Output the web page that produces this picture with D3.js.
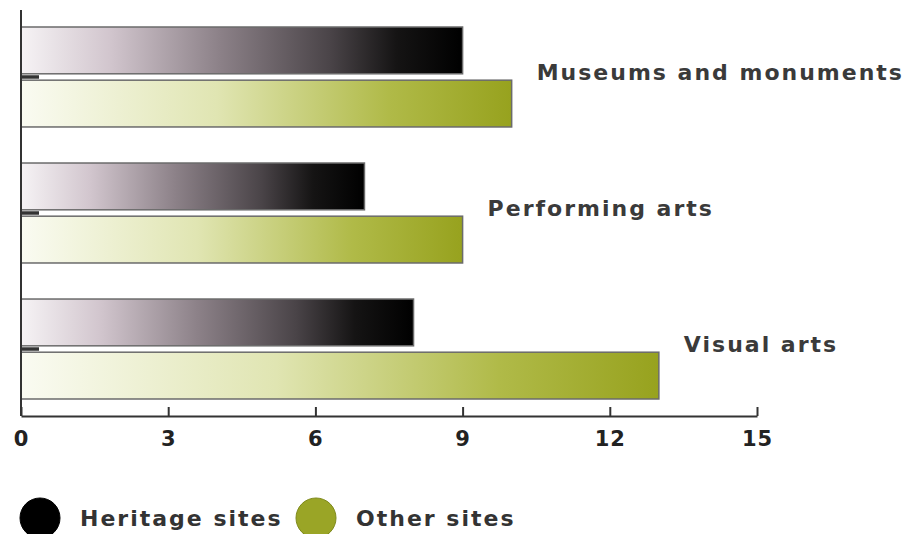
<!DOCTYPE html>
<html>
<head>
<meta charset="utf-8">
<script src="https://cdn.jsdelivr.net/npm/d3@7"></script>
<style>
  html, body { margin: 0; padding: 0; background: #fff; }
  svg { display: block; }
</style>
</head>
<body>
<div id="chart"></div>
<script>
// data
const categories = ["Museums and monuments", "Performing arts", "Visual arts"];
const seriesNames = ["Heritage sites", "Other sites"];
const heritageValues = [9, 7, 8];
const otherValues = [10, 9, 13];
const tickValues = [0, 3, 6, 9, 12, 15];

const width = 909, height = 534;

const svg = d3.select("#chart").append("svg")
    .attr("width", width)
    .attr("height", height);

const defs = svg.append("defs");

// gradients (left pale -> right saturated)
const gradStops = {
    heritage: [[0, "#f6f3f5"], [0.2, "#d2c6ce"], [0.45, "#8c8188"], [0.7, "#4a4448"], [0.85, "#151414"], [1, "#000"]],
    other: [[0, "#fafbf2"], [0.4, "#e0e5b2"], [0.75, "#b0ba48"], [1, "#97a21e"]]
};
Object.keys(gradStops).forEach(k => {
    const g = defs.append("linearGradient")
        .attr("id", "grad-" + k)
        .attr("x1", 0).attr("x2", 1).attr("y1", 0).attr("y2", 0);
    g.selectAll("stop").data(gradStops[k]).enter().append("stop")
        .attr("offset", d => d[0])
        .attr("stop-color", d => d[1]);
});

const x = d3.scaleLinear().domain([0, 15]).range([21, 757]);

const y0 = d3.scaleBand()
    .domain(categories)
    .range([27, 399])
    .paddingInner(0.265)
    .paddingOuter(0);

const y1 = d3.scaleBand()
    .domain(seriesNames)
    .range([0, y0.bandwidth()])
    .paddingInner(0.12);

const rows = categories.map((c, i) => ({
    cat: c,
    vals: [
        { s: seriesNames[0], v: heritageValues[i], key: "heritage" },
        { s: seriesNames[1], v: otherValues[i], key: "other" }
    ]
}));

const group = svg.append("g").selectAll("g")
    .data(rows)
    .enter().append("g")
    .attr("transform", d => `translate(0,${y0(d.cat)})`);

group.selectAll("rect")
    .data(d => d.vals)
    .enter().append("rect")
    .attr("x", x(0))
    .attr("y", d => y1(d.s))
    .attr("width", d => x(d.v) - x(0))
    .attr("height", y1.bandwidth())
    .attr("fill", d => `url(#grad-${d.key})`)
    .attr("stroke", "#6b6b6b")
    .attr("stroke-width", 1.5);

// short dark marker on the axis between the two bars
group.append("line")
    .attr("x1", x(0))
    .attr("x2", x(0) + 18)
    .attr("y1", y0.bandwidth() / 2)
    .attr("y2", y0.bandwidth() / 2)
    .attr("stroke", "#333")
    .attr("stroke-width", 3.5);

// category labels
group.append("text")
    .attr("x", d => x(d3.max(d.vals, v => v.v)) + 25)
    .attr("y", y0.bandwidth() / 2 - 5)
    .attr("dy", "0.35em")
    .attr("font-family", "DejaVu Sans")
    .attr("font-weight", "bold")
    .attr("font-size", 22)
    .attr("letter-spacing", 2)
    .attr("fill", "#3a3a3a")
    .text(d => d.cat);

// y axis line
svg.append("line")
    .attr("x1", x(0)).attr("x2", x(0))
    .attr("y1", 10).attr("y2", 416)
    .attr("stroke", "#333")
    .attr("stroke-width", 2);

// x axis
const xAxis = d3.axisBottom(x)
    .tickValues(tickValues)
    .tickSizeInner(-9)
    .tickSizeOuter(0)
    .tickPadding(15);

const axisG = svg.append("g")
    .attr("transform", "translate(0,416)")
    .call(xAxis);

axisG.select(".domain")
    .attr("stroke", "#333")
    .attr("stroke-width", 2);
axisG.selectAll(".tick line")
    .attr("stroke", "#333")
    .attr("stroke-width", 2);
axisG.selectAll(".tick text")
    .attr("font-family", "DejaVu Sans")
    .attr("font-weight", "bold")
    .attr("font-size", 21)
    .attr("letter-spacing", 1)
    .attr("fill", "#222");

// legend
const legendColors = ["#000000", "#9aa526"];
const legendX = [40, 316];
const legend = svg.append("g").selectAll("g")
    .data(seriesNames)
    .enter().append("g")
    .attr("transform", (d, i) => `translate(${legendX[i]},518)`);

legend.append("circle")
    .attr("r", 20)
    .attr("fill", (d, i) => legendColors[i])
    .attr("stroke", (d, i) => i ? "#7f8a1c" : "#000")
    .attr("stroke-width", 1);

legend.append("text")
    .attr("x", 40)
    .attr("dy", "0.35em")
    .attr("font-family", "DejaVu Sans")
    .attr("font-weight", "bold")
    .attr("font-size", 22)
    .attr("letter-spacing", 2)
    .attr("fill", "#333")
    .text(d => d);
</script>
</body>
</html>
